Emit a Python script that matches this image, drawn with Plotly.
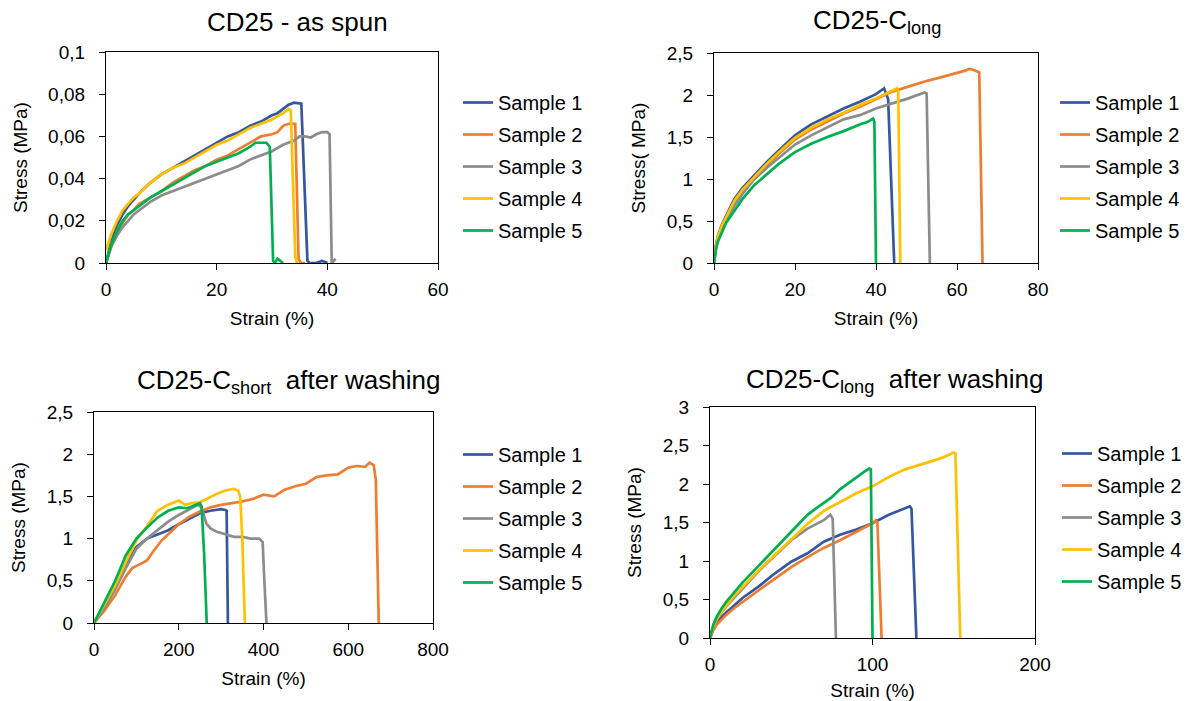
import plotly.graph_objects as go

W, H = 1189, 701

# ---------------- data ----------------
sample_names = ["Sample 1", "Sample 2", "Sample 3", "Sample 4", "Sample 5"]
colors = ["#34579F", "#ED7D31", "#8C8C8C", "#FFC000", "#00B050"]

panel_titles = ["CD25 - as spun", "CD25-C<sub>long</sub>",
                "CD25-C<sub>short</sub>  after washing", "CD25-C<sub>long</sub>  after washing"]
y_titles = ["Stress (MPa)", "Stress( MPa)", "Stress (MPa)", "Stress (MPa)"]
x_title = "Strain (%)"

# Panel 1: CD25 - as spun
p1_s1_x = [0, 0.5, 1, 2, 3, 4, 5, 6, 8, 10, 12, 14, 16, 18, 20, 22, 24, 26, 28, 30, 31, 32, 33, 34, 35.3, 36.4, 36.8, 38, 39, 39.6, 40]
p1_s1_y = [0, 0.006, 0.011, 0.018, 0.023, 0.027, 0.030, 0.033, 0.038, 0.042, 0.045, 0.048, 0.051, 0.054, 0.057, 0.060, 0.062, 0.065, 0.067, 0.070, 0.071, 0.073, 0.075, 0.076, 0.0755, 0.001, 0, 0, 0.001, 0.0005, 0]
p1_s2_x = [0, 0.5, 1, 2, 3, 4, 5, 6, 8, 10, 12, 14, 16, 18, 20, 22, 24, 26, 28, 30, 31, 32, 33, 34.2, 34.8, 35.2, 36]
p1_s2_y = [0, 0.005, 0.009, 0.015, 0.019, 0.023, 0.025, 0.028, 0.031, 0.034, 0.038, 0.041, 0.044, 0.046, 0.049, 0.051, 0.054, 0.057, 0.060, 0.061, 0.062, 0.065, 0.066, 0.066, 0.002, 0, 0]
p1_s3_x = [0, 0.5, 1, 2, 3, 4, 5, 6, 8, 10, 12, 14, 16, 18, 20, 22, 24, 26, 28, 30, 32, 34, 35, 36, 37, 38, 39, 40, 40.4, 40.8, 41.5]
p1_s3_y = [0, 0.004, 0.008, 0.013, 0.017, 0.020, 0.023, 0.025, 0.029, 0.032, 0.034, 0.036, 0.038, 0.040, 0.042, 0.044, 0.046, 0.049, 0.051, 0.053, 0.056, 0.058, 0.060, 0.060, 0.0595, 0.061, 0.062, 0.062, 0.061, 0, 0.002]
p1_s4_x = [0, 0.5, 1, 2, 3, 4, 5, 6, 8, 10, 12, 14, 16, 18, 20, 22, 24, 26, 28, 30, 32, 33, 33.4, 34.2, 34.5]
p1_s4_y = [0.006, 0.010, 0.014, 0.020, 0.025, 0.028, 0.031, 0.033, 0.038, 0.042, 0.045, 0.047, 0.050, 0.053, 0.056, 0.058, 0.061, 0.064, 0.066, 0.068, 0.071, 0.073, 0.072, 0.003, 0]
p1_s5_x = [0, 0.5, 1, 2, 3, 4, 5, 6, 8, 10, 12, 14, 16, 18, 20, 22, 24, 26, 27, 28, 29, 29.6, 30.2, 30.5, 31, 31.5, 32]
p1_s5_y = [0, 0.005, 0.009, 0.015, 0.020, 0.023, 0.025, 0.027, 0.031, 0.034, 0.037, 0.040, 0.043, 0.046, 0.048, 0.050, 0.052, 0.055, 0.057, 0.057, 0.057, 0.055, 0.001, 0.0, 0.002, 0.001, 0]

# Panel 2: CD25-C_long
p2_s1_x = [0, 0.5, 1, 2, 3, 5, 7, 10, 13, 16, 20, 24, 28, 32, 36, 40, 42, 43, 44.5]
p2_s1_y = [0, 0.22, 0.33, 0.46, 0.56, 0.76, 0.89, 1.05, 1.2, 1.34, 1.52, 1.65, 1.75, 1.84, 1.92, 2.01, 2.08, 1.95, 0]
p2_s2_x = [0, 0.5, 1, 2, 3, 5, 7, 10, 13, 16, 20, 24, 28, 32, 36, 40, 44, 48, 52, 56, 60, 62, 63, 64, 65, 65.5, 66.3]
p2_s2_y = [0, 0.2, 0.3, 0.43, 0.53, 0.72, 0.85, 1.01, 1.16, 1.3, 1.47, 1.59, 1.69, 1.78, 1.86, 1.95, 2.04, 2.1, 2.16, 2.21, 2.26, 2.29, 2.31, 2.3, 2.28, 2.27, 0]
p2_s3_x = [0, 0.5, 1, 2, 3, 5, 7, 10, 13, 16, 20, 24, 28, 32, 36, 40, 44, 48, 52, 52.5, 53.3]
p2_s3_y = [0, 0.18, 0.27, 0.4, 0.5, 0.68, 0.82, 1.0, 1.13, 1.25, 1.41, 1.52, 1.62, 1.71, 1.76, 1.84, 1.9, 1.96, 2.03, 2.02, 0]
p2_s4_x = [0, 0.5, 1, 2, 3, 5, 7, 10, 13, 16, 20, 24, 28, 32, 36, 40, 43, 45.2, 45.5, 46]
p2_s4_y = [0.08, 0.22, 0.32, 0.45, 0.55, 0.74, 0.87, 1.03, 1.18, 1.32, 1.49, 1.61, 1.71, 1.79, 1.88, 1.96, 2.03, 2.08, 2.05, 0]
p2_s5_x = [0, 0.5, 1, 2, 3, 5, 7, 10, 13, 16, 20, 24, 28, 32, 36, 38, 39.3, 39.6, 40]
p2_s5_y = [0, 0.17, 0.26, 0.38, 0.48, 0.62, 0.76, 0.93, 1.06, 1.18, 1.32, 1.42, 1.5, 1.57, 1.65, 1.68, 1.72, 1.68, 0]

# Panel 3: CD25-C_short after washing
p3_s1_x = [0, 25, 50, 75, 100, 125, 150, 175, 200, 225, 250, 275, 300, 310, 313, 316]
p3_s1_y = [0, 0.2, 0.42, 0.68, 0.9, 1.0, 1.05, 1.1, 1.17, 1.24, 1.3, 1.33, 1.35, 1.34, 1.33, 0]
p3_s2_x = [0, 25, 50, 75, 90, 100, 110, 125, 140, 160, 180, 200, 225, 250, 275, 300, 325, 350, 375, 400, 425, 450, 475, 500, 525, 550, 575, 600, 620, 640, 650, 660, 665, 672]
p3_s2_y = [0, 0.15, 0.33, 0.55, 0.65, 0.68, 0.7, 0.74, 0.85, 0.98, 1.08, 1.17, 1.26, 1.32, 1.37, 1.4, 1.42, 1.44, 1.47, 1.52, 1.5, 1.58, 1.62, 1.65, 1.73, 1.75, 1.76, 1.84, 1.86, 1.85, 1.9, 1.87, 1.7, 0]
p3_s3_x = [0, 25, 50, 75, 100, 125, 150, 175, 200, 225, 245, 252, 258, 265, 275, 290, 310, 330, 350, 370, 390, 398, 402, 407]
p3_s3_y = [0, 0.18, 0.4, 0.65, 0.88, 1.0, 1.1, 1.2, 1.28, 1.35, 1.4, 1.38, 1.3, 1.18, 1.12, 1.08, 1.05, 1.02, 1.02, 1.0, 1.0, 0.96, 0.5, 0]
p3_s4_x = [0, 25, 50, 75, 100, 125, 150, 175, 200, 215, 230, 250, 270, 290, 310, 330, 340, 345, 350, 356]
p3_s4_y = [0, 0.22, 0.45, 0.72, 0.98, 1.15, 1.33, 1.4, 1.45, 1.4, 1.42, 1.43, 1.48, 1.53, 1.57, 1.59, 1.57, 1.5, 1.0, 0]
p3_s5_x = [0, 25, 50, 75, 100, 125, 150, 175, 200, 220, 240, 250, 254, 260, 266]
p3_s5_y = [0, 0.25, 0.5, 0.8, 1.0, 1.13, 1.25, 1.33, 1.37, 1.36, 1.4, 1.42, 1.38, 0.8, 0]

# Panel 4: CD25-C_long after washing
p4_s1_x = [0, 1, 2, 4, 7, 10, 15, 20, 30, 40, 50, 60, 70, 80, 90, 100, 110, 115, 120, 123, 124, 127]
p4_s1_y = [0, 0.07, 0.12, 0.19, 0.27, 0.33, 0.43, 0.52, 0.67, 0.84, 0.99, 1.1, 1.25, 1.34, 1.41, 1.49, 1.6, 1.64, 1.68, 1.71, 1.68, 0]
p4_s2_x = [0, 1, 2, 4, 7, 10, 15, 20, 30, 40, 50, 60, 70, 80, 90, 100, 102, 103, 105.6]
p4_s2_y = [0, 0.06, 0.1, 0.17, 0.24, 0.3, 0.39, 0.47, 0.62, 0.77, 0.92, 1.05, 1.17, 1.27, 1.38, 1.49, 1.53, 1.5, 0]
p4_s3_x = [0, 1, 2, 4, 7, 10, 15, 20, 30, 40, 50, 60, 70, 74, 75.5, 77.5]
p4_s3_y = [0, 0.09, 0.14, 0.23, 0.33, 0.41, 0.53, 0.64, 0.87, 1.07, 1.27, 1.42, 1.53, 1.6, 1.55, 0]
p4_s4_x = [0, 1, 2, 4, 7, 10, 15, 20, 30, 40, 50, 60, 70, 80, 90, 100, 110, 120, 130, 140, 145, 150, 151, 154]
p4_s4_y = [0, 0.09, 0.15, 0.24, 0.34, 0.42, 0.55, 0.66, 0.88, 1.08, 1.28, 1.48, 1.65, 1.76, 1.88, 1.97, 2.09, 2.19, 2.25, 2.32, 2.36, 2.41, 2.4, 0]
p4_s5_x = [0, 1, 2, 4, 7, 10, 15, 20, 25, 30, 35, 40, 45, 50, 55, 60, 65, 70, 75, 80, 85, 90, 95, 98, 99, 100]
p4_s5_y = [0, 0.1, 0.17, 0.27, 0.38, 0.47, 0.6, 0.72, 0.83, 0.94, 1.05, 1.16, 1.28, 1.39, 1.5, 1.6, 1.68, 1.75, 1.83, 1.93, 2.01, 2.08, 2.16, 2.2, 2.19, 0]

panels = [
    [(p1_s1_x, p1_s1_y), (p1_s2_x, p1_s2_y), (p1_s3_x, p1_s3_y), (p1_s4_x, p1_s4_y), (p1_s5_x, p1_s5_y)],
    [(p2_s1_x, p2_s1_y), (p2_s2_x, p2_s2_y), (p2_s3_x, p2_s3_y), (p2_s4_x, p2_s4_y), (p2_s5_x, p2_s5_y)],
    [(p3_s1_x, p3_s1_y), (p3_s2_x, p3_s2_y), (p3_s3_x, p3_s3_y), (p3_s4_x, p3_s4_y), (p3_s5_x, p3_s5_y)],
    [(p4_s1_x, p4_s1_y), (p4_s2_x, p4_s2_y), (p4_s3_x, p4_s3_y), (p4_s4_x, p4_s4_y), (p4_s5_x, p4_s5_y)],
]
x_ranges = [(0, 60), (0, 80), (0, 800), (0, 200)]
x_dticks = [20, 20, 200, 100]
y_ranges = [(0, 0.1), (0, 2.5), (0, 2.5), (0, 3)]
y_dticks = [0.02, 0.5, 0.5, 0.5]

# ---------------- layout geometry (pixels) ----------------
# (left, right, top, bottom) of each plot area
boxes = [(106, 438, 52, 263), (714, 1038, 53, 263), (94, 433, 412, 623), (710, 1035, 407, 638)]
legend_pos = [(458, 83), (1055, 83), (458, 435), (1057, 434)]
title_pos = [(297, 22), (877, 22), (288, 382), (894, 380)]

FONT = "Arial, Liberation Sans, sans-serif"

def px_x(p):
    return p / W

def px_y(p):
    return 1 - p / H

fig = go.Figure()
layout = dict(
    width=W, height=H, margin=dict(l=0, r=0, t=0, b=0, autoexpand=False),
    paper_bgcolor="white", plot_bgcolor="white",
    separators=",.",
    font=dict(family=FONT, size=19, color="#000000"),
    showlegend=True,
    annotations=[],
)

for i in range(4):
    sfx = "" if i == 0 else str(i + 1)
    xa, ya = "x" + sfx, "y" + sfx
    leg = "legend" + sfx
    for j in range(5):
        xs, ys = panels[i][j]
        fig.add_trace(go.Scatter(
            x=xs, y=ys, mode="lines", name=sample_names[j],
            line=dict(color=colors[j], width=2.7),
            xaxis=xa, yaxis=ya, legend=leg, legendgroup=f"p{i}s{j}",
        ))
    l, r, t, b = boxes[i]
    axis_common = dict(showgrid=False, zeroline=False, showline=True, linecolor="black",
                       linewidth=1.3, mirror=True, ticks="outside", ticklen=6, tickwidth=1.3,
                       tickcolor="black", automargin=False,
                       tickfont=dict(size=19, family=FONT, color="black"))
    layout["xaxis" + sfx] = dict(axis_common, domain=[px_x(l), px_x(r)], anchor=ya,
                                 range=list(x_ranges[i]), dtick=x_dticks[i], tick0=0,
                                 ticklabelstandoff=3,
                                 title=dict(text=x_title, font=dict(size=19, family=FONT), standoff=12))
    layout["yaxis" + sfx] = dict(axis_common, domain=[px_y(b), px_y(t)], anchor=xa,
                                 range=list(y_ranges[i]), dtick=y_dticks[i], tick0=0,
                                 ticklabelstandoff=10,
                                 title=dict(text=y_titles[i], font=dict(size=19, family=FONT), standoff=15))
    lx, ly = legend_pos[i]
    layout[leg] = dict(x=px_x(lx), y=px_y(ly), xanchor="left", yanchor="top",
                       xref="paper", yref="paper", bgcolor="rgba(0,0,0,0)",
                       font=dict(size=20, family=FONT, color="black"),
                       tracegroupgap=3, itemclick=False, itemdoubleclick=False)
    tx, ty = title_pos[i]
    layout["annotations"].append(dict(
        text=panel_titles[i], x=px_x(tx), y=px_y(ty), xref="paper", yref="paper",
        xanchor="center", yanchor="middle", showarrow=False,
        font=dict(size=26, family=FONT, color="black")))

fig.update_layout(**layout)
fig.write_html("out.html")
